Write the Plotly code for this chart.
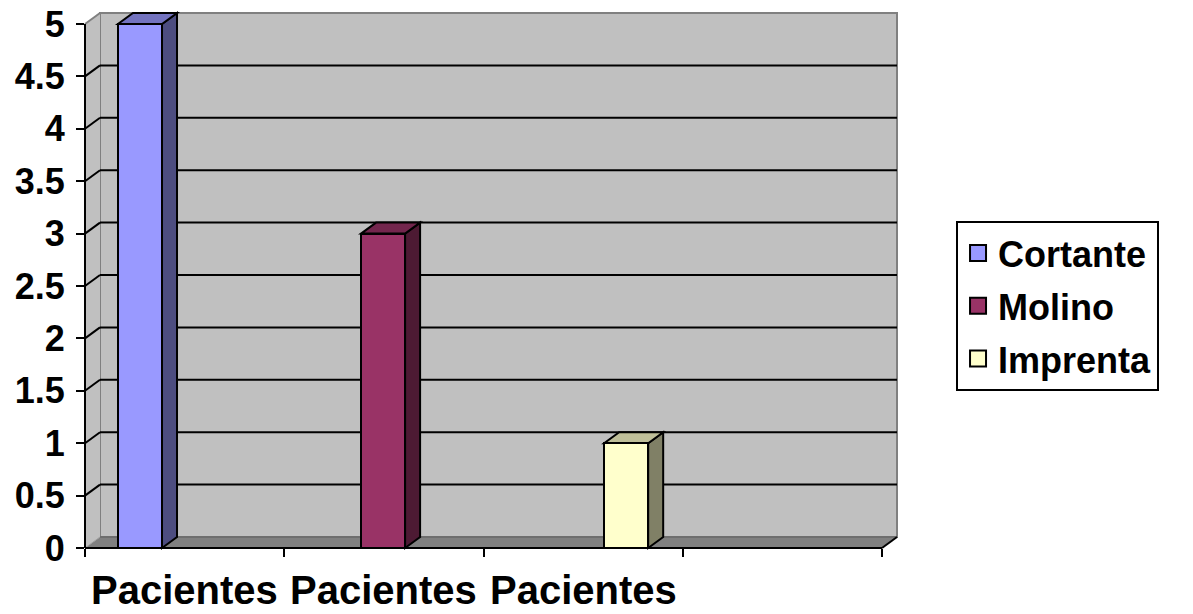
import plotly.graph_objects as go

# ---- data ----
series_names = ["Cortante", "Molino", "Imprenta"]
series_values = [5, 3, 1]
category_labels = ["Pacientes", "Pacientes", "Pacientes", ""]
y_tick_values = [0, 0.5, 1, 1.5, 2, 2.5, 3, 3.5, 4, 4.5, 5]
y_tick_labels = ["0", "0.5", "1", "1.5", "2", "2.5", "3", "3.5", "4", "4.5", "5"]
front_colors = ["#9999FF", "#993366", "#FFFFCC"]
side_colors = ["#4D4D80", "#4D1A33", "#808066"]
top_colors = ["#7373BF", "#73264D", "#BFBF99"]

# ---- layout constants ----
N_SLOTS = len(category_labels)
DX = 0.0753          # depth offset along x (slot units)
DY = 0.105           # depth offset along y (value units)
YTOP = max(y_tick_values)
XMAX = N_SLOTS + DX
YMAX = YTOP + DY
BAR_W = 0.221
BAR_START = 0.276
BAR_STEP = 1.22
FONT = "Liberation Sans, Arial, sans-serif"


def fx(x):
    return x / XMAX


def fy(y):
    return y / YMAX


def dline(x0, y0, x1, y1, color="black", width=2):
    return dict(type="line", xref="x domain", yref="y domain",
                x0=fx(x0), y0=fy(y0), x1=fx(x1), y1=fy(y1),
                line=dict(color=color, width=width), layer="below")


def dpath(pts, fill, color="black", width=2):
    p = "M " + " L ".join(f"{fx(a)},{fy(b)}" for a, b in pts) + " Z"
    return dict(type="path", xref="x domain", yref="y domain", path=p,
                fillcolor=fill, line=dict(color=color, width=width), layer="below")


shapes = []
# back wall
shapes.append(dpath([(DX, DY), (XMAX, DY), (XMAX, YMAX), (DX, YMAX)], "#C0C0C0", "#808080", 2))
# left wall
shapes.append(dpath([(0, 0), (DX, DY), (DX, YMAX), (0, YTOP)], "#C0C0C0", "#C0C0C0", 0))
shapes.append(dline(0, YTOP, DX, YMAX, "#808080", 2))
# floor
shapes.append(dpath([(0, 0), (N_SLOTS, 0), (XMAX, DY), (DX, DY)], "#808080", "#808080", 0))
shapes.append(dline(DX, DY, XMAX, DY, "#6E6E6E", 2))
shapes.append(dline(0, 0, DX, DY, "#A0A0A0", 1))
# gridlines
for v in y_tick_values[1:-1]:
    shapes.append(dline(0, v, DX, v + DY, "black", 2))
    shapes.append(dline(DX, v + DY, XMAX, v + DY, "black", 2))
# front axis lines
shapes.append(dline(0, 0, 0, YTOP, "black", 2))
shapes.append(dline(0, 0, N_SLOTS, 0, "black", 2))
shapes.append(dline(N_SLOTS, 0, XMAX, DY, "black", 2))

fig = go.Figure()

for i, (name, v) in enumerate(zip(series_names, series_values)):
    c = BAR_START + i * BAR_STEP
    x0, x1 = c - BAR_W / 2, c + BAR_W / 2
    fig.add_trace(go.Bar(x=[c], y=[v], width=[BAR_W], name=name,
                         marker=dict(color=front_colors[i], line=dict(color="black", width=2)),
                         showlegend=False, hoverinfo="skip"))
    # side face
    shapes.append(dpath([(x1, 0), (x1 + DX, DY), (x1 + DX, v + DY), (x1, v)], side_colors[i]))
    # top face
    shapes.append(dpath([(x0, v), (x1, v), (x1 + DX, v + DY), (x0 + DX, v + DY)], top_colors[i]))
    # legend entry
    fig.add_trace(go.Scatter(x=[None], y=[None], mode="markers", name=name, legendgroup=name,
                             marker=dict(symbol="square", size=18, color=front_colors[i],
                                         line=dict(color="black", width=2))))

annotations = []
for i, lab in enumerate(category_labels):
    if lab:
        annotations.append(dict(x=i + 0.5, xref="x", y=-0.078, yref="paper", text=lab,
                                showarrow=False, yanchor="middle", xanchor="center",
                                font=dict(family=FONT, size=40, color="black", weight="bold")))

fig.update_layout(
    width=1193, height=614, autosize=False,
    margin=dict(l=85, r=296, t=13, b=66, pad=0, autoexpand=False),
    paper_bgcolor="white", plot_bgcolor="rgba(0,0,0,0)",
    shapes=shapes, annotations=annotations,
    bargap=0,
    xaxis=dict(range=[0, XMAX], tickvals=list(range(N_SLOTS + 1)), showticklabels=False,
               ticks="outside", ticklen=8, tickwidth=2, tickcolor="black", automargin=False,
               showgrid=False, zeroline=False, showline=False, fixedrange=True),
    yaxis=dict(range=[0, YMAX], tickvals=y_tick_values, ticktext=y_tick_labels,
               ticks="outside", ticklen=8, tickwidth=2, tickcolor="black", automargin=False,
               tickfont=dict(family=FONT, size=36, color="black", weight="bold"),
               ticklabelstandoff=4,
               showgrid=False, zeroline=False, showline=False, fixedrange=True),
    legend=dict(x=1.0727, y=0.611, xanchor="left", yanchor="top",
                bordercolor="black", borderwidth=2, bgcolor="white",
                font=dict(family=FONT, size=36, color="black", weight="bold"),
                tracegroupgap=3, itemsizing="trace"),
    showlegend=True,
)

fig.write_html("out.html")
